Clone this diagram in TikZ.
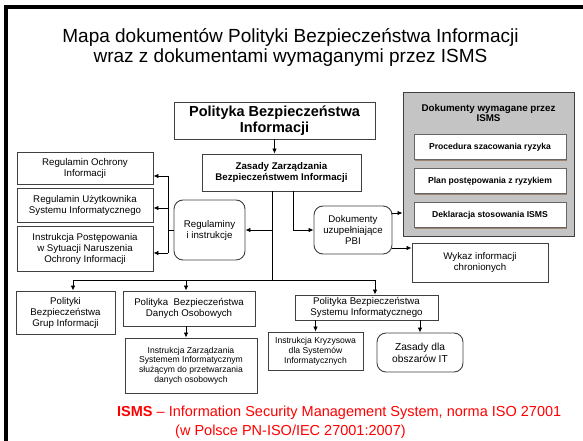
\documentclass[tikz,border=0pt]{standalone}
\usepackage{fontspec}
\setmainfont{Liberation Sans}
\usetikzlibrary{arrows.meta,shadows}
\definecolor{boxline}{HTML}{404040}
\definecolor{panel}{HTML}{C4C4C4}
\definecolor{shade}{HTML}{9C8570}

\begin{document}
\begin{tikzpicture}[x=1pt,y=-1pt]
		\tikzset{box/.style = {draw=boxline, line width=0.9pt, fill=white, inner sep=1pt, align=center, font=\fontsize{9.7}{11}\selectfont}}
		\tikzset{rbox/.style = {box, rounded corners=9pt}}
		\tikzset{small/.style = {font=\fontsize{8.6}{9.8}\selectfont}}
		\tikzset{ismsbox/.style = {box, draw=boxline!80, font=\bfseries\fontsize{8.6}{10}\selectfont, minimum width=152pt, minimum height=25pt, drop shadow={shadow xshift=1pt, shadow yshift=-1.5pt, fill=shade, opacity=1}}}
		\tikzset{edge/.style = {-{Latex[length=5pt,width=4.5pt]}, line width=0.8pt}}

		\useasboundingbox (0,0) rectangle (583,441);
		\draw[line width=4pt] (6,441) -- (6,7) -- (583,7);

		% title
		\node (t1) at (290.5,37) {\fontsize{19}{22}\selectfont Mapa dokumentów Polityki Bezpieczeństwa Informacji};
		\node (t2) at (290.5,58) {\fontsize{19}{22}\selectfont wraz z dokumentami wymaganymi przez ISMS};

		% top
		\node[box, font=\bfseries\fontsize{14.5}{16}\selectfont, minimum width=201pt, minimum height=37pt] (main) at (274.5,120.5) {Polityka Bezpieczeństwa\\Informacji};
		\node[box, font=\bfseries\fontsize{9.7}{11}\selectfont, minimum width=159pt, minimum height=37pt] (zasady) at (281.5,172.5) {Zasady Zarządzania\\Bezpieczeństwem Informacji};

		% left column
		\node[box, minimum width=136pt, minimum height=32pt] (ochr) at (85,168) {Regulamin Ochrony\\Informacji};
		\node[box, minimum width=136pt, minimum height=34pt] (uzytk) at (85,205) {Regulamin Użytkownika\\Systemu Informatycznego};
		\node[box, minimum width=136pt, minimum height=45pt] (instr) at (85,248.5) {Instrukcja Postępowania\\w Sytuacji Naruszenia\\Ochrony Informacji};
		\node[rbox, minimum width=71pt, minimum height=60pt] (regul) at (209.5,230) {Regulaminy\\i instrukcje};

		% right side
		\node[rbox, minimum width=78pt, minimum height=48pt] (dok) at (353,230) {Dokumenty\\uzupełniające\\PBI};
		\node[draw=boxline, line width=1pt, fill=panel, minimum width=171pt, minimum height=143pt] (panel) at (488.5,164.5) {};
		\node[align=center, font=\bfseries\fontsize{9.8}{10.5}\selectfont] (panhead) at (488.5,113) {Dokumenty wymagane przez\\ISMS};
		\node[ismsbox] (proc) at (490,147) {Procedura szacowania ryzyka};
		\node[ismsbox] (plan) at (490,181) {Plan postępowania z ryzykiem};
		\node[ismsbox] (dekl) at (490,215) {Deklaracja stosowania ISMS};
		\node[box, minimum width=136pt, minimum height=39pt] (wykaz) at (480,262.5) {Wykaz informacji\\chronionych};

		% bottom row
		\node[box, minimum width=99pt, minimum height=43pt] (pbgi) at (65.5,312.5) {Polityki\\Bezpieczeństwa\\Grup Informacji};
		\node[box, minimum width=132pt, minimum height=35pt] (pbdo) at (189,308.5) {Polityka~ Bezpieczeństwa\\Danych Osobowych};
		\node[box, small, minimum width=132pt, minimum height=55pt] (izs) at (191,365.5) {Instrukcja Zarządzania\\Systemem Informatycznym\\służącym do przetwarzania\\danych osobowych};
		\node[box, minimum width=143pt, minimum height=25pt] (pbsi) at (366.5,307.5) {Polityka Bezpieczeństwa\\Systemu Informatycznego};
		\node[box, small, minimum width=95pt, minimum height=38pt] (ik) at (315.5,351) {Instrukcja Kryzysowa\\dla Systemów\\Informatycznych};
		\node[rbox, font=\fontsize{10.2}{12}\selectfont, minimum width=86pt, minimum height=39pt] (zit) at (420,352.5) {Zasady dla\\obszarów IT};

		% footnote
		\node[anchor=west, inner sep=0pt, text=red, font=\fontsize{14.5}{17}\selectfont] (isms1) at (117,413) {\textbf{ISMS} – Information Security Management System, norma ISO 27001};
		\node[anchor=west, inner sep=0pt, text=red, font=\fontsize{14.5}{17}\selectfont] (isms2) at (175,432) {(w Polsce PN-ISO/IEC 27001:2007)};

		% connectors
		\coordinate (trunk) at (272,280);
		\coordinate (busL) at (73,280);
		\coordinate (busM) at (186,280);
		\coordinate (busR) at (375,280);
		\coordinate (split) at (168,230);
		\coordinate (s1) at (168,176);
		\coordinate (s3) at (168,253);
		\coordinate (s2) at (168,208);
		\coordinate (d0) at (293,226);

		\draw[edge] (main.south) -- (main.south |- zasady.north);
		\draw[line width=0.8pt] (trunk |- zasady.south) -- (trunk);
		\draw[line width=0.8pt] (busL) -- (busR);
		\draw[edge] (trunk |- regul.east) -- (regul.east);
		\draw[line width=0.8pt] (regul.west) -- (regul.west -| split);
		\draw[line width=0.8pt] (s1) -- (s3);
		\draw[edge] (s1) -- (s1 -| ochr.east);
		\draw[edge] (s2) -- (s2 -| uzytk.east);
		\draw[edge] (s3) -- (s3 -| instr.east);
		\draw[edge] (zasady.south -| d0) |- (dok.west);
		\draw[edge] ([yshift=17pt]dok.east) -- ([yshift=17pt]dok.east -| panel.west);
		\draw[edge] ([yshift=-18pt]dok.east) -- ([yshift=-18pt]dok.east -| wykaz.west);
		\draw[edge] (busL) -- (busL |- pbgi.north);
		\draw[edge] (busM) -- (busM |- pbdo.north);
		\draw[edge] (busR) -- (busR |- pbsi.north);
		\draw[edge] (busM |- pbdo.south) -- (busM |- izs.north);
		\draw[edge] (ik.north |- pbsi.south) -- (ik.north);
		\draw[edge] (zit.north |- pbsi.south) -- (zit.north);
		\end{tikzpicture}
\end{document}
